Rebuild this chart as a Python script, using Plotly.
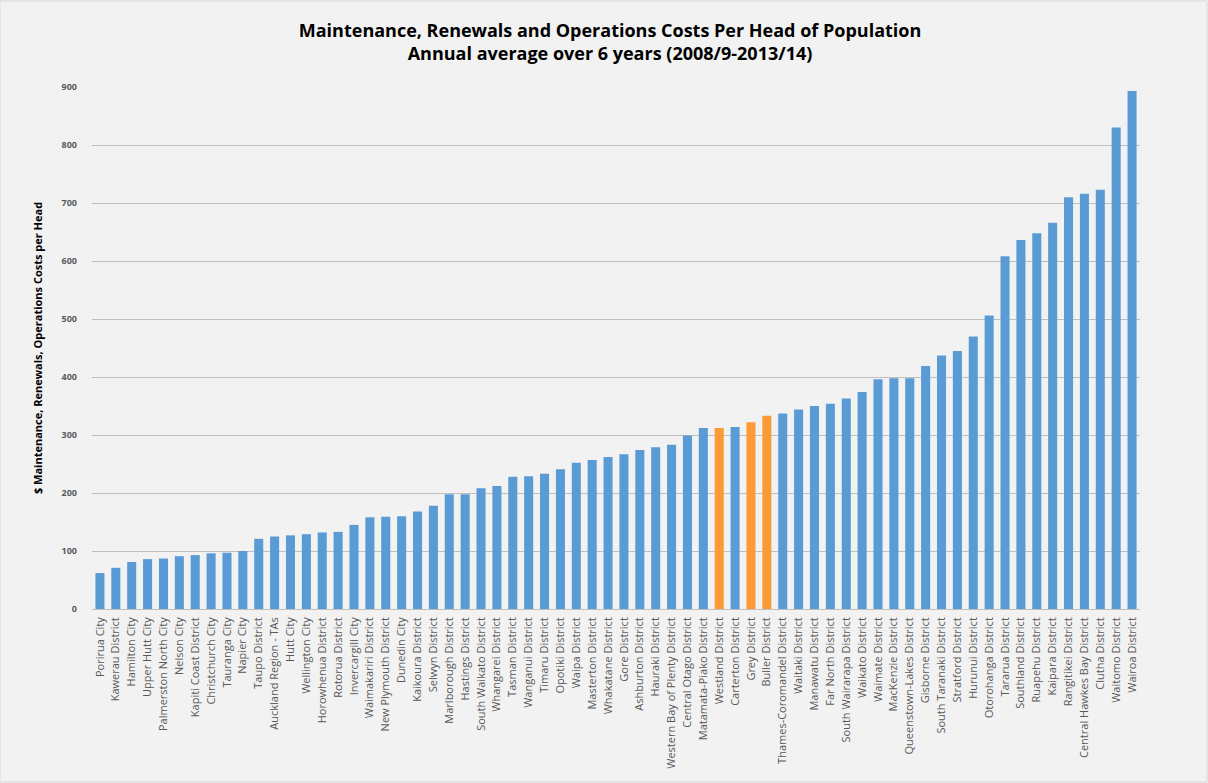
import plotly.graph_objects as go

councils = [
    "Porirua City", "Kawerau District", "Hamilton City", "Upper Hutt City", "Palmerston North City",
    "Nelson City", "Kapiti Coast District", "Christchurch City", "Tauranga City", "Napier City",
    "Taupo District", "Auckland Region - TAs", "Hutt City", "Wellington City", "Horowhenua District",
    "Rotorua District", "Invercargill City", "Waimakariri District", "New Plymouth District", "Dunedin City",
    "Kaikoura District", "Selwyn District", "Marlborough District", "Hastings District", "South Waikato District",
    "Whangarei District", "Tasman District", "Wanganui District", "Timaru District", "Opotiki District",
    "Waipa District", "Masterton District", "Whakatane District", "Gore District", "Ashburton District",
    "Hauraki District", "Western Bay of Plenty District", "Central Otago District", "Matamata-Piako District",
    "Westland District", "Carterton District", "Grey District", "Buller District", "Thames-Coromandel District",
    "Waitaki District", "Manawatu District", "Far North District", "South Wairarapa District", "Waikato District",
    "Waimate District", "MacKenzie District", "Queenstown-Lakes District", "Gisborne District",
    "South Taranaki District", "Stratford District", "Hurunui District", "Otorohanga District",
    "Tararua District", "Southland District", "Ruapehu District", "Kaipara District", "Rangitikei District",
    "Central Hawkes Bay District", "Clutha District", "Waitomo District", "Wairoa District",
]

cost_per_head = [
    62, 71, 81, 86, 87,
    91, 93, 96, 97, 100,
    121, 125, 127, 129, 132,
    133, 145, 158, 159, 160,
    168, 178, 198, 198, 208,
    212, 228, 229, 233, 241,
    252, 257, 262, 267, 274,
    279, 283, 299, 312,
    312, 314, 322, 333, 337,
    344, 350, 354, 363, 374,
    396, 398, 398, 419,
    437, 445, 470, 506,
    608, 636, 648, 666, 710,
    716, 723, 830, 893,
]

highlighted = ["Westland District", "Grey District", "Buller District"]

y_ticks = [0, 100, 200, 300, 400, 500, 600, 700, 800, 900]

BLUE = "#5b9bd5"
ORANGE = "#fb9a36"
colors = [ORANGE if c in highlighted else BLUE for c in councils]

fig = go.Figure(
    go.Bar(
        x=councils,
        y=cost_per_head,
        marker=dict(color=colors, line=dict(width=0)),
    )
)

fig.update_layout(
    width=1208,
    height=783,
    paper_bgcolor="#f2f2f2",
    plot_bgcolor="#f2f2f2",
    bargap=0.43,
    showlegend=False,
    margin=dict(l=92, r=68, t=87, b=174),
    title=dict(
        text="Maintenance, Renewals and Operations Costs Per Head of Population<br>Annual average over 6 years (2008/9-2013/14)",
        x=0.505,
        xanchor="center",
        y=0.953,
        yanchor="top",
        font=dict(family="Open Sans", size=18, color="#000000", weight="bold"),
    ),
    font=dict(family="Open Sans"),
    shapes=[
        dict(
            type="rect", xref="paper", yref="paper",
            x0=-92 / 1048, x1=(1208 - 92 - 1) / 1048,
            y0=-(174 - 1) / 522, y1=(783 - 174 - 1) / 522,
            line=dict(color="#d9d9d9", width=1),
            fillcolor="rgba(0,0,0,0)",
            layer="below",
        )
    ],
)

fig.update_yaxes(
    range=[0, 900],
    tickvals=y_ticks,
    ticktext=[str(v) for v in y_ticks],
    showgrid=True,
    gridcolor="#bfbfbf",
    gridwidth=1,
    zeroline=True,
    zerolinecolor="#bfbfbf",
    zerolinewidth=1,
    showline=False,
    ticks="",
    ticklabelstandoff=14,
    tickfont=dict(family="Open Sans", size=9, color="#595959", weight="bold"),
    title=dict(
        text="$ Maintenance, Renewals, Operations Costs per Head",
        font=dict(family="Open Sans", size=11, color="#000000", weight="bold"),
        standoff=16,
    ),
)

fig.update_xaxes(
    tickangle=-90,
    tickfont=dict(family="Open Sans", size=11, color="#595959"),
    showgrid=False,
    showline=False,
    ticks="",
    ticklabelstandoff=5,
)

fig.write_html("out.html")
